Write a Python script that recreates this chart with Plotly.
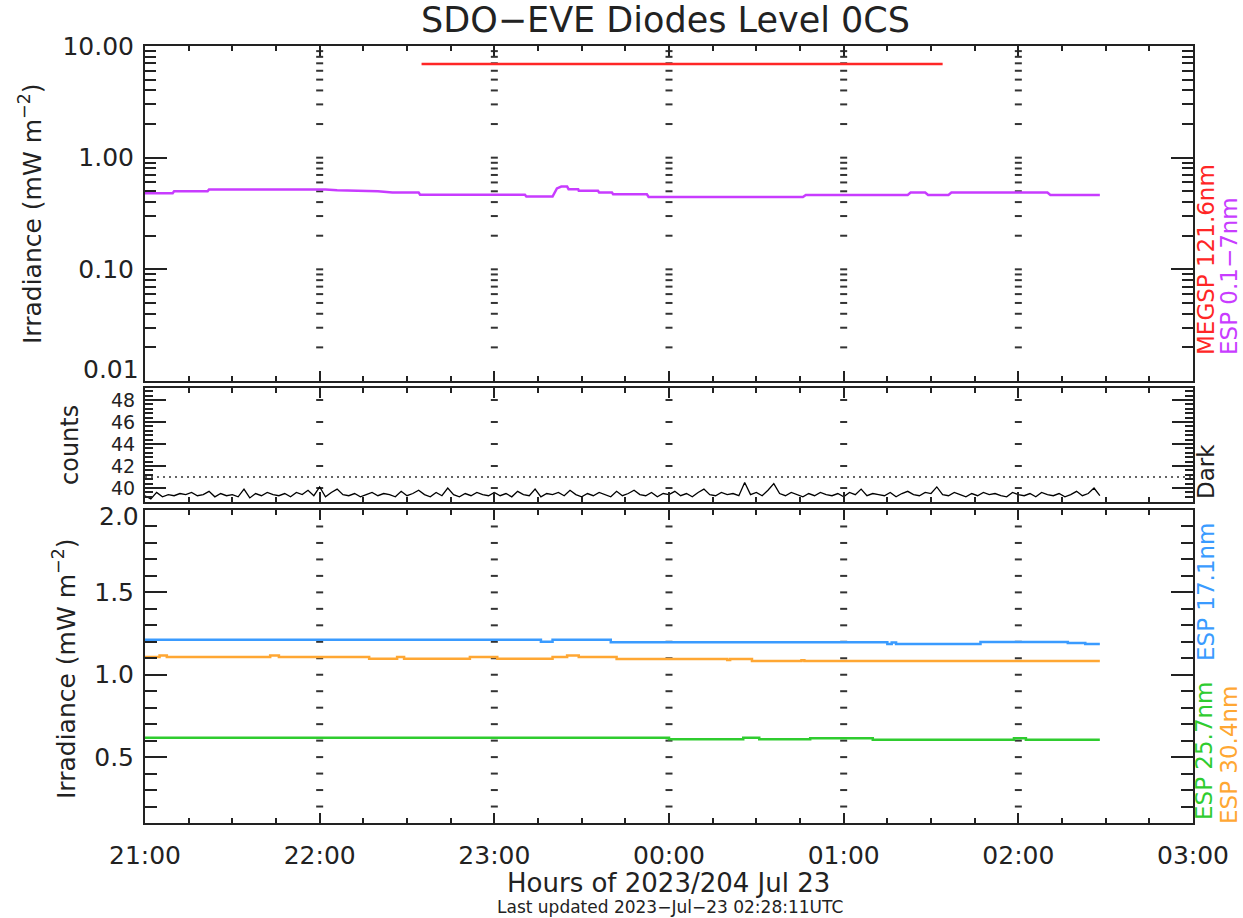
import numpy as np
import pandas as pd
import plotly.graph_objects as go

# ---------------- data (minutes after 2023-07-22 21:00 UTC) ----------------
BASE = pd.Timestamp("2023-07-22 21:00:00")

megsp_min = [95, 274]
megsp_val = [6.9, 6.9]

esp_xray_min = [0, 9.5, 10, 21.5, 22, 62, 66, 80, 85, 94, 94.5, 130.5, 131, 140,
                141.5, 143, 145, 145.5, 148.8, 149, 155.6, 156, 160.4, 160.8,
                172.4, 173, 226, 227, 262, 263, 268, 269, 276, 277, 310, 311, 328]
esp_xray_val = [0.48, 0.48, 0.50, 0.50, 0.52, 0.52, 0.51, 0.50, 0.487, 0.487, 0.466, 0.466,
                0.448, 0.448, 0.53, 0.551, 0.551, 0.522, 0.522, 0.505, 0.505, 0.487,
                0.487, 0.47, 0.47, 0.445, 0.445, 0.464, 0.464, 0.487, 0.487, 0.464,
                0.464, 0.487, 0.487, 0.464, 0.464]

dark_start_min = 0
dark_step_min = 2
dark_counts = [
    39.3, 39.0, 39.6, 39.2, 39.4, 39.3, 39.5, 39.4, 39.6, 39.3, 39.4, 39.7, 39.2, 39.5, 39.3,
    39.4, 39.2, 39.9, 39.1, 39.5, 39.3, 39.6, 39.4, 39.3, 39.5, 39.2, 39.6, 39.4, 39.8, 39.3,
    40.1, 39.2, 39.6, 39.9, 39.4, 39.3, 39.5, 39.2, 39.4, 39.6, 39.3, 39.5, 39.4, 39.2, 39.7,
    39.3, 39.5, 39.8, 39.4, 39.2, 39.6, 39.3, 40.0, 39.4, 39.2, 39.5, 39.3, 39.6, 39.4, 39.3,
    39.6, 39.3, 39.5, 39.2, 39.7, 39.4, 39.3, 39.9, 39.2, 39.5, 39.4, 39.6, 39.3, 39.8, 39.4,
    39.2, 39.5, 39.3, 39.6, 39.4, 39.2, 39.7, 39.3, 39.5, 39.8, 39.4, 39.3, 39.6, 39.2, 39.5,
    39.4, 39.7, 39.3, 39.5, 39.2, 39.6, 39.9, 39.4, 39.3, 39.6, 39.4, 39.5, 39.3, 40.5, 39.4,
    39.6, 39.3, 39.8, 40.4, 39.5, 39.3, 39.6, 39.4, 39.2, 39.5, 39.3, 39.6, 39.4, 39.3, 39.5,
    39.2, 39.6, 39.4, 39.9, 39.3, 39.5, 39.4, 39.3, 39.6, 39.2, 39.5, 39.7, 39.4, 39.3, 39.6,
    39.5, 40.1, 39.4, 39.3, 39.6, 39.4, 39.2, 39.5, 39.3, 39.6, 39.4, 39.5, 39.3, 39.2, 39.6,
    39.4, 39.3, 39.5, 39.2, 39.6, 39.4, 39.3, 39.5, 39.2, 39.4, 39.7, 39.3, 39.5, 40.0, 39.3,
]
dark_threshold = 41.0

esp171_min = [0, 136, 140, 160, 255, 256.5, 258, 287, 317, 323, 328]
esp171_val = [1.212, 1.200, 1.212, 1.197, 1.186, 1.195, 1.186, 1.198, 1.193, 1.186, 1.186]

esp304_min = [0, 5, 7.5, 43, 46, 77, 86.6, 89, 111.6, 121, 140, 145, 149, 162, 200, 201,
              208.5, 225.5, 226.5, 328]
esp304_val = [1.107, 1.117, 1.107, 1.117, 1.107, 1.097, 1.107, 1.097, 1.107, 1.097, 1.107,
              1.117, 1.107, 1.095, 1.090, 1.095, 1.083, 1.088, 1.083, 1.083]

esp257_min = [0, 180, 205.5, 211, 228.5, 250, 298.5, 302.6, 328]
esp257_val = [0.618, 0.608, 0.617, 0.608, 0.615, 0.606, 0.615, 0.606, 0.606]

hour_ticks = [1, 2, 3, 4, 5]  # hours after 21:00 where dotted guide lines are drawn

top_tick_vals = [0.01, 0.1, 1, 10]
top_tick_text = ["0.01", "0.10", "1.00", "10.00"]
bot_tick_vals = [0.5, 1.0, 1.5, 2.0]
bot_tick_text = ["0.5", "1.0", "1.5", "2.0"]

# ---------------- styling ----------------
RED = "#ff2626"
MAG = "#c83cff"
BLUE = "#3a9bff"
ORANGE = "#ffa733"
GREEN = "#2fcc2f"
INK = "#222222"
FONT = "DejaVu Sans"

W, H = 1243, 918
ML, MR, MT, MB = 145, 50, 46, 95
PW, PH = W - ML - MR, H - MT - MB


def t(mins):
    return BASE + pd.to_timedelta(np.asarray(mins, dtype=float), unit="min")


def px(xp):
    return (xp - ML) / PW


def py(yp):
    return (H - MB - yp) / PH


fig = go.Figure()

# dotted vertical guide lines (drawn as dashes at every y tick)
top_dash_y = [k * 10.0 ** e for e in (-2, -1, 0) for k in range(1, 10)][1:]
mid_dash_y = [40, 42, 44, 46, 48]
bot_dash_y = [round(0.1 * k, 1) for k in range(2, 20)]
for ys, xa, ya in [(top_dash_y, "x", "y"), (mid_dash_y, "x2", "y2"), (bot_dash_y, "x3", "y3")]:
    xx, yy = [], []
    for h in hour_ticks:
        for v in ys:
            xx.append(BASE + pd.Timedelta(hours=h))
            yy.append(v)
    fig.add_trace(go.Scatter(x=xx, y=yy, mode="markers", xaxis=xa, yaxis=ya,
                             marker=dict(symbol="line-ew", size=5,
                                         line=dict(width=2, color="#333333")),
                             hoverinfo="skip"))

# top panel
fig.add_trace(go.Scatter(x=t(megsp_min), y=megsp_val, mode="lines", xaxis="x", yaxis="y",
                         line=dict(color=RED, width=2.5), name="MEGSP 121.6nm"))
fig.add_trace(go.Scatter(x=t(esp_xray_min), y=esp_xray_val, mode="lines", xaxis="x", yaxis="y",
                         line=dict(color=MAG, width=2.5), name="ESP 0.1-7nm"))

# middle panel
dark_min = dark_start_min + dark_step_min * np.arange(len(dark_counts))
fig.add_trace(go.Scatter(x=t(dark_min), y=dark_counts, mode="lines", xaxis="x2", yaxis="y2",
                         line=dict(color="black", width=1.3), name="Dark"))
fig.add_shape(type="line", xref="x2 domain", yref="y2", x0=0, x1=1,
              y0=dark_threshold, y1=dark_threshold,
              line=dict(color="#333333", width=1.5, dash="2px,4px"))

# bottom panel
fig.add_trace(go.Scatter(x=t(esp171_min), y=esp171_val, mode="lines", xaxis="x3", yaxis="y3",
                         line=dict(color=BLUE, width=2.5, shape="hv"), name="ESP 17.1nm"))
fig.add_trace(go.Scatter(x=t(esp304_min), y=esp304_val, mode="lines", xaxis="x3", yaxis="y3",
                         line=dict(color=ORANGE, width=2.5, shape="hv"), name="ESP 30.4nm"))
fig.add_trace(go.Scatter(x=t(esp257_min), y=esp257_val, mode="lines", xaxis="x3", yaxis="y3",
                         line=dict(color=GREEN, width=2.5, shape="hv"), name="ESP 25.7nm"))

x_range = [str(BASE), str(BASE + pd.Timedelta(hours=6))]
xcommon = dict(type="date", range=x_range, tick0=str(BASE), dtick=3600000, tickformat="%H:%M",
               ticks="inside", ticklen=10, tickwidth=2, tickcolor=INK,
               minor=dict(ticks="inside", ticklen=5, dtick=900000, tick0=str(BASE),
                          tickwidth=2, tickcolor=INK),
               showline=True, linewidth=2, linecolor=INK, mirror="ticks",
               showgrid=False, zeroline=False, domain=[0, 1])
ycommon = dict(ticks="inside", tickwidth=2, tickcolor=INK, showline=True, linewidth=2,
               linecolor=INK, mirror="ticks", showgrid=False, zeroline=False,
               tickfont=dict(family=FONT, size=25, color=INK), ticklabelstandoff=4)

dom_top = [py(381), 1.0]
dom_mid = [py(502), py(388)]
dom_bot = [0.0, py(510)]

log_minor = [k * 10.0 ** e for e in (-2, -1, 0) for k in range(2, 10)]

# edge labels (bottom of top panel, top of bottom panel) are drawn as annotations,
# nudged inward like the original so they do not collide with the middle panel labels
top_text_axis = [""] + top_tick_text[1:]
bot_text_axis = bot_tick_text[:-1] + [""]

fig.update_layout(
    width=W, height=H, margin=dict(l=ML, r=MR, t=MT, b=MB),
    paper_bgcolor="white", plot_bgcolor="white", showlegend=False,
    font=dict(family=FONT, color=INK),
    xaxis=dict(xcommon, anchor="y", matches="x3", showticklabels=False),
    xaxis2=dict(xcommon, anchor="y2", matches="x3", showticklabels=False),
    xaxis3=dict(xcommon, anchor="y3", showticklabels=True,
                tickfont=dict(family=FONT, size=25, color=INK), ticklabelstandoff=9),
    yaxis=dict(ycommon, type="log", range=[-2, 1], domain=dom_top, anchor="x",
               tickmode="array", tickvals=top_tick_vals,
               ticktext=top_text_axis, ticklen=22,
               minor=dict(ticks="inside", ticklen=11, tickmode="array", tickvals=log_minor,
                          tickwidth=2, tickcolor=INK)),
    yaxis2=dict(ycommon, range=[38.73, 49.09], domain=dom_mid, anchor="x2",
                tick0=40, dtick=2, ticklen=21,
                tickfont=dict(family=FONT, size=19, color=INK),
                minor=dict(ticks="inside", ticklen=8, tick0=40, dtick=0.4,
                           tickwidth=2, tickcolor=INK)),
    yaxis3=dict(ycommon, range=[0.1, 2.0], domain=dom_bot, anchor="x3",
                tickmode="array", tickvals=bot_tick_vals,
                ticktext=bot_text_axis, ticklen=22,
                minor=dict(ticks="inside", ticklen=12, tick0=0, dtick=0.1,
                           tickwidth=2, tickcolor=INK)),
)


def ann(text, xp, yp, size, color=INK, angle=0, xanchor="center"):
    fig.add_annotation(text=text, x=px(xp), y=py(yp), xref="paper", yref="paper",
                       xanchor=xanchor, yanchor="middle", showarrow=False,
                       textangle=angle, font=dict(family=FONT, size=size, color=color))


ann(top_tick_text[0], 141, 369, 25, xanchor="right")
ann(bot_tick_text[-1], 141, 516, 25, xanchor="right")

ann("SDO−EVE Diodes Level 0CS", 665, 20, 35)
ann("Hours of 2023/204 Jul 23", 668, 883, 26)
ann("Last updated 2023−Jul−23 02:28:11UTC", 670, 907, 17)

ann("Irradiance (mW m<sup>−2</sup>)", 30, 214, 25, angle=-90)
ann("counts", 70, 445, 24, angle=-90)
ann("Irradiance (mW m<sup>−2</sup>)", 64, 669, 25, angle=-90)

ann("MEGSP 121.6nm", 1206, 260, 23, RED, -90)
ann("ESP 0.1−7nm", 1229, 276, 23, MAG, -90)
ann("Dark", 1206, 472, 23, INK, -90)
ann("ESP 17.1nm", 1206, 592, 23, BLUE, -90)
ann("ESP 25.7nm", 1204, 751, 23, GREEN, -90)
ann("ESP 30.4nm", 1229, 755, 23, ORANGE, -90)

fig.write_html("out.html")
